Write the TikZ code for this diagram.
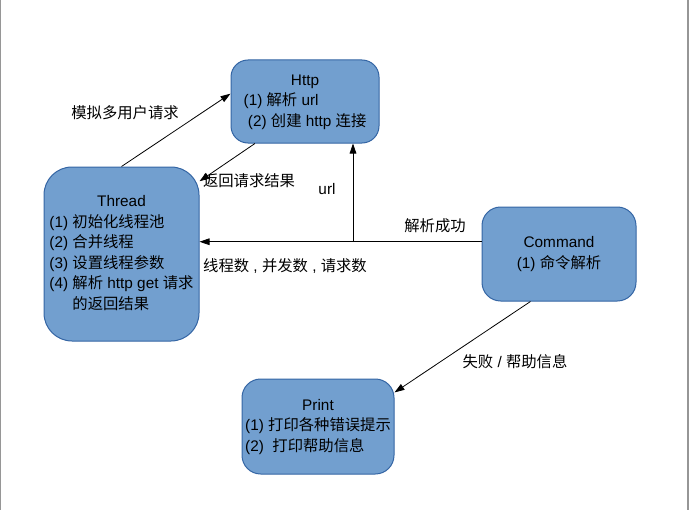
\documentclass[tikz,border=0pt]{standalone}
\usepackage{fontspec}
\setmainfont{Liberation Sans}
\newfontfamily\cjk{Noto Sans CJK SC}
\newcommand{\zh}[1]{{\cjk #1}}
\usepackage{xcolor}
\usepackage{tikz}
\usetikzlibrary{arrows.meta, positioning}

\definecolor{boxfill}{RGB}{114,159,207}
\definecolor{boxline}{RGB}{52,101,164}
\definecolor{edgegray}{RGB}{150,150,150}

\tikzset{
  box/.style={draw=boxline, fill=boxfill, line width=0.75pt, inner sep=0pt,
    font=\fontsize{11.5}{15.4}\selectfont},
  arr/.style={-{Triangle[length=7.5pt,width=5pt]}, line width=0.6pt},
  lbl/.style={inner sep=0pt, font=\fontsize{11.5}{15.4}\selectfont}
}

\begin{document}
\begin{tikzpicture}[x=0.75pt, y=-0.75pt]
            \useasboundingbox (0,0) rectangle (689,510);
            \draw[edgegray, line width=1pt] (0.7,0) -- (0.7,510);
            \draw[edgegray, line width=1pt] (688,0) -- (688,510);

            % boxes
            \node[box, rounded corners=12.75pt, minimum width=111pt, minimum height=62.25pt] (http) at (305,101.5)
              {\begin{tabular}{@{}l@{}}\multicolumn{1}{c}{Http}\\(1) \zh{解析} url\\ \ (2) \zh{创建} http \zh{连接}\end{tabular}};
            \node[box, rounded corners=21pt, minimum width=116.25pt, minimum height=130.5pt] (thread) at (121.5,254)
              {\begin{tabular}{@{}l@{}}\multicolumn{1}{c}{Thread}\\(1) \zh{初始化线程池}\\(2) \zh{合并线程}\\(3) \zh{设置线程参数}\\(4) \zh{解析} http get \zh{请求}\\\phantom{(4) }\zh{的返回结果}\end{tabular}};
            \node[box, rounded corners=14pt, minimum width=115.5pt, minimum height=70.5pt] (command) at (559,254)
              {\begin{tabular}{@{}c@{}}Command\\(1) \zh{命令解析}\end{tabular}};
            \node[box, rounded corners=14pt, minimum width=114pt, minimum height=71.25pt] (print) at (318,426.5)
              {\begin{tabular}{@{}l@{}}\multicolumn{1}{c}{Print}\\(1) \zh{打印各种错误提示}\\(2) \ \zh{打印帮助信息}\end{tabular}};

            % connectors
            \coordinate (split) at (353,241);
            \draw[arr] (thread.north) -- (http.174);
            \draw[arr] (http.220) -- (thread.43);
            \draw[arr] (command.171) -- (command.171 -| thread.east);
            \draw[arr] (split) -- (split |- http.south);
            \draw[arr] (command.239) -- (print.24);

            % labels
            \node[lbl] (lblsim) at (125,113) {\zh{模拟多用户请求}};
            \node[lbl] (lblret) at (249,181) {\zh{返回请求结果}};
            \node[lbl] (lblurl) at (327,189) {url};
            \node[lbl] (lblok) at (435,226) {\zh{解析成功}};
            \node[lbl] (lblargs) at (285,266) {\zh{线程数} , \zh{并发数} , \zh{请求数}};
            \node[lbl] (lblfail) at (515,362) {\zh{失败} / \zh{帮助信息}};
        \end{tikzpicture}
\end{document}
